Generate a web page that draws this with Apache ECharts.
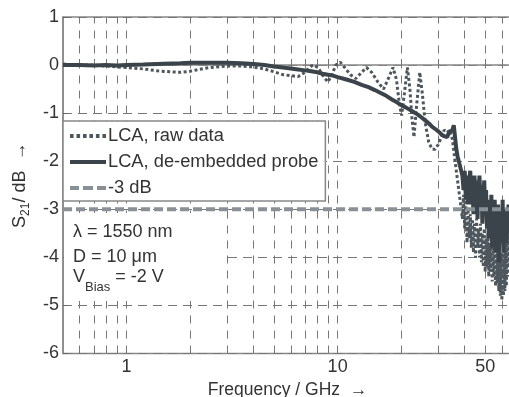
<!DOCTYPE html>
<html><head><meta charset="utf-8">
<script src="https://cdn.jsdelivr.net/npm/echarts@6/dist/echarts.min.js"></script>
<style>html,body{margin:0;padding:0;background:#fff}#c{width:509px;height:397px}</style>
</head><body><div id="c"></div>
<script>
// Raw LCA data (frequency in GHz, S21 in dB)
const rawFreq = [0.5,0.6,0.7,0.8,0.9,1,1.2,1.4,1.6,1.8,2,2.2,2.5,2.8,3,3.5,4,4.5,5,5.5,6,6.5,7,7.5,7.8,8.2,8.6,9,9.4,9.8,10.3,10.8,11.5,12.2,13,13.7,14.5,15.5,16.5,17.5,18.3,19,19.6,20.1,20.7,21.4,22,22.5,23,23.6,24.5,25.2,26,27,28,29,30,31,32,33,34,35,36,37,38,39,39.5,
 40,40.5,41,41.5,42,42.5,43,43.5,44,44.5,45,45.5,46,46.5,47,47.5,48,48.5,49,49.5,50,50.5,51,51.5,52,52.5,53,53.5,54,54.5,55,55.5,56,56.5,57,57.5,58,58.5,59,59.5,60,60.5,61,61.5,62,62.5,63,63.5,64,64.5,65,65.5,66,66.5,67];
const rawS21 = [0.02,0,0,-0.02,-0.04,-0.05,-0.08,-0.12,-0.14,-0.15,-0.13,-0.09,-0.05,-0.03,-0.02,-0.02,-0.04,-0.08,-0.14,-0.2,-0.22,-0.24,-0.15,-0.02,0,-0.1,-0.25,-0.35,-0.2,0,0.06,-0.05,-0.2,-0.28,-0.15,-0.05,-0.15,-0.35,-0.5,-0.25,-0.05,-0.3,-0.8,-1.05,-0.6,-0.05,-0.5,-1.1,-1.5,-0.9,-0.15,-0.6,-1.2,-1.6,-1.75,-1.75,-1.65,-1.5,-1.35,-1.4,-1.35,-1.55,-2.0,-2.4,-2.8,-3.2,-2.7,
 -3.4,-2.8,-3.7,-3.0,-3.6,-3.1,-3.8,-3.2,-3.9,-3.3,-4.0,-3.2,-3.8,-3.4,-4.0,-3.3,-4.1,-3.5,-4.2,-3.4,-4.3,-3.6,-4.2,-3.5,-4.4,-3.7,-4.3,-3.6,-4.5,-3.8,-4.4,-3.7,-4.6,-3.9,-4.5,-3.8,-4.7,-4.0,-4.8,-3.9,-4.9,-4.1,-4.8,-3.8,-4.7,-3.6,-4.6,-3.5,-4.4,-3.3,-4.2,-3.1,-4.0,-3.0,-3.8];

// De-embedded probe data
const deFreq = [0.5,0.6,0.7,0.8,0.9,1,1.2,1.5,1.8,2,2.5,3,3.5,4,4.5,5,5.5,6,6.5,7,7.5,8,8.5,9,9.5,10,11,12,13,14,15,16,17,18,19,20,21,22,23,24,25,26,27,28,29,30,31,32,33,34,35,35.5,36,36.5,37,38,
 39,39.5,40,40.5,41,41.5,42,42.5,43,43.5,44,44.5,45,45.5,46,46.5,47,47.5,48,48.5,49,49.5,50,50.5,51,51.5,52,52.5,53,53.5,54,54.5,55,55.5,56,56.5,57,57.5,58,58.5,59,59.5,60,60.5,61,61.5,62,62.5,63,63.5,64,64.5,65,65.5,66,66.5,67];
const deS21 = [0,0,-0.01,0,-0.01,0,0.01,0.03,0.04,0.05,0.05,0.05,0.04,0.02,0,-0.03,-0.05,-0.07,-0.09,-0.11,-0.13,-0.15,-0.18,-0.2,-0.22,-0.25,-0.3,-0.35,-0.41,-0.46,-0.52,-0.58,-0.64,-0.71,-0.77,-0.83,-0.88,-0.93,-0.98,-1.03,-1.09,-1.15,-1.21,-1.28,-1.33,-1.38,-1.44,-1.48,-1.5,-1.38,-1.35,-1.25,-1.5,-1.75,-1.9,-2.1,
 -2.3,-2.6,-2.2,-2.8,-2.3,-2.9,-2.4,-2.2,-2.9,-2.5,-3.1,-2.3,-2.8,-2.4,-3.2,-2.6,-2.3,-3.0,-2.5,-3.3,-2.7,-2.4,-3.1,-2.6,-3.4,-2.8,-3.6,-2.9,-3.3,-2.7,-3.8,-3.0,-3.5,-2.8,-3.9,-3.1,-3.6,-2.9,-4.1,-3.2,-3.7,-3.0,-3.5,-2.8,-3.9,-3.2,-3.6,-3.0,-3.7,-3.1,-3.4,-2.9,-3.3,-2.9,-3.5,-3.0,-3.4];

// -3 dB reference
const refFreq = [0.5, 67];
const refS21 = [-3, -3];

// Axis settings
const gridFreqs = [0.6,0.7,0.8,0.9,1,2,3,4,5,6,7,8,9,10,20,30,40,50,60];
const xLabelValues = [1, 10, 50];
const xMin = 0.5, xMax = 67;
const yMin = -6, yMax = 1, yStep = 1;

const FONT = '"Liberation Sans", Arial, sans-serif';
const zip = (a, b) => a.map((v, i) => [v, b[i]]);

// legend icon shapes (36 x 4 units)
const iconDotted = 'path://M0,0h3.6v4h-3.6z M6.5,0h3.6v4h-3.6z M13,0h3.6v4h-3.6z M19.4,0h3.6v4h-3.6z M25.9,0h3.6v4h-3.6z M32.4,0h3.6v4h-3.6z';
const iconSolid = 'path://M0,0h36v4h-36z';
const iconDashed = 'path://M0,0h9v4h-9z M13,0h10v4h-10z M27,0h9v4h-9z';

const chart = echarts.init(document.getElementById('c'), null, {renderer: 'canvas'});
chart.setOption({
  animation: false,
  backgroundColor: '#fff',
  grid: {left: 63, right: -3, top: 17, bottom: 43.5, outerBoundsMode: 'none', containLabel: false,
    show: true, borderColor: '#888', borderWidth: 1.5, backgroundColor: 'transparent'},
  xAxis: {
    type: 'log', min: xMin, max: xMax, logBase: 10,
    name: 'Frequency / GHz  \u2192', nameLocation: 'middle', nameGap: 25,
    nameTextStyle: {fontFamily: FONT, fontSize: 17.5, color: '#333'},
    axisLine: {lineStyle: {color: '#888', width: 1.5}},
    axisTick: {show: true, inside: true, length: 6, customValues: gridFreqs, lineStyle: {color: '#666'}},
    axisLabel: {customValues: xLabelValues, fontFamily: FONT, fontSize: 18, color: '#333', margin: 5, formatter: v => String(v)},
    splitLine: {show: false}, minorTick: {show: false}
  },
  yAxis: {
    type: 'value', min: yMin, max: yMax, interval: yStep,
    name: '{m|S}{s|21}{m|/ dB  \u2192}', nameLocation: 'middle', nameGap: 25,
    nameTextStyle: {rich: {
      m: {fontFamily: FONT, fontSize: 18, color: '#333', lineHeight: 24, verticalAlign: 'middle'},
      s: {fontFamily: FONT, fontSize: 12, color: '#333', lineHeight: 12, verticalAlign: 'bottom'}
    }},
    axisLine: {show: true, lineStyle: {color: '#888', width: 1.5}},
    axisTick: {show: true, inside: true, length: 5, lineStyle: {color: '#666'}},
    axisLabel: {fontFamily: FONT, fontSize: 18, color: '#333', margin: 4},
    splitLine: {show: true, lineStyle: {color: '#777', width: 1, type: [9, 6]}}
  },
  legend: {
    data: [
      {name: 'LCA, raw data', icon: iconDotted},
      {name: 'LCA, de-embedded probe', icon: iconSolid},
      {name: '-3 dB', icon: iconDashed}
    ],
    orient: 'vertical', left: 63, top: 121, z: 20,
    padding: [5, 7, 3, 7], itemGap: 6, itemWidth: 36, itemHeight: 4,
    backgroundColor: '#fff', borderColor: '#888', borderWidth: 1.5, borderRadius: 0,
    textStyle: {fontFamily: FONT, fontSize: 18.3, color: '#333', lineHeight: 20, padding: [0,0,0,-3]}
  },
  graphic: [
    {type: 'rect', z: 15, silent: true, shape: {x: 64, y: 213, width: 158, height: 88}, style: {fill: '#fff'}},
    {type: 'text', x: 73, y: 232, z: 16, style: {text: '\u03bb = 1550 nm', font: '18px ' + FONT, fill: '#333', verticalAlign: 'middle'}},
    {type: 'text', x: 73, y: 257, z: 16, style: {text: 'D = 10 \u03bcm', font: '18px ' + FONT, fill: '#333', verticalAlign: 'middle'}},
    {type: 'text', x: 73, y: 281, z: 16, style: {text: '{m|V}{s|Bias}{m| = -2 V}', verticalAlign: 'middle',
      rich: {
        m: {fontFamily: FONT, fontSize: 18, fill: '#333', lineHeight: 26, verticalAlign: 'top'},
        s: {fontFamily: FONT, fontSize: 13, fill: '#333', lineHeight: 14, verticalAlign: 'bottom'}
      }}}
  ],
  series: [
    {
      name: 'gridlines', type: 'line', data: [], z: 1, silent: true,
      markLine: {
        silent: true, symbol: 'none', animation: false, z: 1,
        label: {show: false},
        lineStyle: {color: '#777', width: 1, type: [8, 7]},
        data: gridFreqs.map(f => ({xAxis: f}))
      }
    },
    {
      name: 'LCA, raw data', type: 'line', data: zip(rawFreq, rawS21), z: 3,
      showSymbol: false, symbol: 'none',
      lineStyle: {color: '#4e575d', width: 3, type: [3, 2.5]},
      itemStyle: {color: '#4e575d'}
    },
    {
      name: 'LCA, de-embedded probe', type: 'line', data: zip(deFreq, deS21), z: 4,
      showSymbol: false, symbol: 'none',
      lineStyle: {color: '#3b444a', width: 4},
      itemStyle: {color: '#3b444a'}
    },
    {
      name: '-3 dB', type: 'line', data: zip(refFreq, refS21), z: 5,
      showSymbol: false, symbol: 'none',
      lineStyle: {color: '#8a9196', width: 4, type: [9, 4]},
      itemStyle: {color: '#8a9196'}
    }
  ]
});
</script>
</body></html>
